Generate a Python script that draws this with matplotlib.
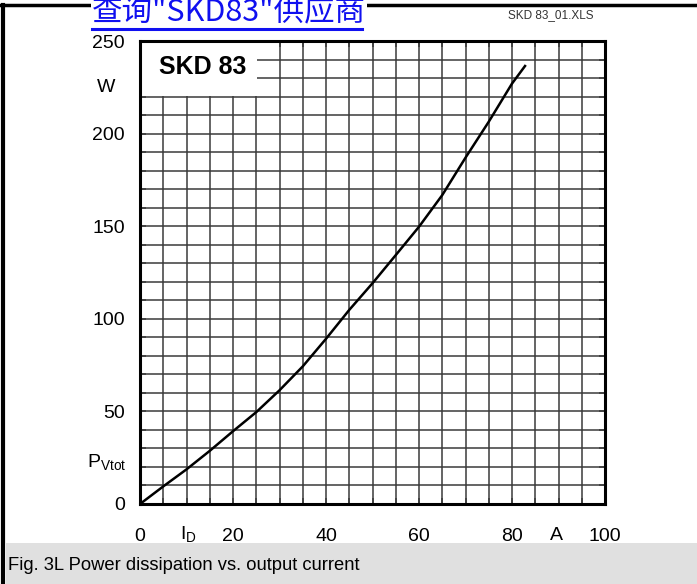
import matplotlib
matplotlib.use('Agg')
import matplotlib.pyplot as plt
import numpy as np
from matplotlib.patches import Rectangle
from matplotlib.lines import Line2D
from matplotlib.ticker import MultipleLocator
from matplotlib.transforms import blended_transform_factory

plt.rcParams['font.family'] = ['Liberation Sans', 'DejaVu Sans']

# power dissipation curve
I_D = [0, 5, 10, 15, 20, 25, 30, 35, 40, 45, 50, 55, 60, 65, 70, 75, 80, 82.8]
P_VTOT = [0, 9.5, 18.7, 28.7, 39.3, 49.6, 61.4, 74.3, 89.2, 104.8, 119.2,
          134.4, 149.7, 166.8, 187.0, 206.4, 227.0, 236.5]

X_TICKS = [0, 20, 40, 60, 80, 100]
Y_TICKS = [0, 50, 100, 150, 200, 250]

TITLE = 'SKD 83'
CAPTION = 'Fig. 3L Power dissipation vs. output current'
LINK = '查询"SKD83"供应商'
FILE_TAG = 'SKD 83_01.XLS'

GRID = '#3a3a3a'

fig = plt.figure(figsize=(6.97, 5.84), dpi=100)
ax = fig.add_axes([140 / 697, 80 / 584, 465 / 697, 463 / 584])

ax.set_xlim(0, 100)
ax.set_ylim(0, 250)

# grid every 5 A / 10 W
for x in np.arange(5, 100, 5):
    ax.axvline(x, color=GRID, lw=1.1, zorder=1)
for y in np.arange(10, 250, 10):
    ax.axhline(y, color=GRID, lw=1.1, zorder=1)

# white label box top-left
ax.add_patch(Rectangle((0, 0.881), 0.2516, 0.119, transform=ax.transAxes,
                       facecolor='white', edgecolor='none', zorder=2))
ax.text(0.135, 0.943, TITLE, transform=ax.transAxes, ha='center', va='center',
        fontsize=18, fontweight='bold', zorder=4)

ax.plot(I_D, P_VTOT, color='black', lw=1.8, zorder=3)

ax.set_xticks(X_TICKS)
ax.set_yticks(Y_TICKS)
ax.xaxis.set_minor_locator(MultipleLocator(5))
ax.yaxis.set_minor_locator(MultipleLocator(10))
ax.tick_params(which='both', direction='in', length=4.5, width=1.1, color=GRID,
               top=True, right=True)
ax.tick_params(axis='x', which='major', pad=17, labelsize=14)
ax.tick_params(axis='y', which='major', pad=11, labelsize=14)
for s in ax.spines.values():
    s.set_linewidth(2.2)
    s.set_zorder(5)

# unit / symbol labels next to the ticks
ty = blended_transform_factory(ax.transAxes, ax.transData)
tx = blended_transform_factory(ax.transData, ax.transAxes)
ax.text(-0.073, 225, 'W', transform=ty, ha='center', va='center', fontsize=14)
ax.text(-0.03, 22, r'P$_{\mathregular{Vtot}}$', transform=ty, ha='right',
        va='center', fontsize=14)
ax.text(10.3, -0.067, r'I$_{\mathregular{D}}$', transform=tx, ha='center',
        va='center', fontsize=14)
ax.text(89.6, -0.067, 'A', transform=tx, ha='center', va='center', fontsize=14)

# frame, link text and caption bar
fig.add_artist(Line2D([0, 1], [1 - 5 / 584, 1 - 5 / 584], color='black', lw=2.5))
fig.add_artist(Line2D([3 / 697, 3 / 697], [0, 1 - 5 / 584], color='black', lw=3))
fig.text(92 / 697, 1 - 12 / 584, LINK, color='#1010f0', fontsize=22,
         ha='left', va='center', family=['Noto Sans CJK SC', 'DejaVu Sans'],
         bbox=dict(facecolor='white', edgecolor='none', pad=0.5), zorder=5)
fig.add_artist(Line2D([92 / 697, 362 / 697], [1 - 28.5 / 584, 1 - 28.5 / 584],
                      color='#1010f0', lw=2.2, zorder=10))
fig.text(593 / 697, 1 - 15 / 584, FILE_TAG, color='#333333', fontsize=8.5,
         ha='right', va='center')

fig.add_artist(Rectangle((6 / 697, 0), 1, 41 / 584, transform=fig.transFigure,
                         facecolor='#e0e0e0', edgecolor='none'))
fig.text(8 / 697, 18 / 584, CAPTION, fontsize=13.2, ha='left', va='center')

fig.savefig('out.png', dpi=100)
